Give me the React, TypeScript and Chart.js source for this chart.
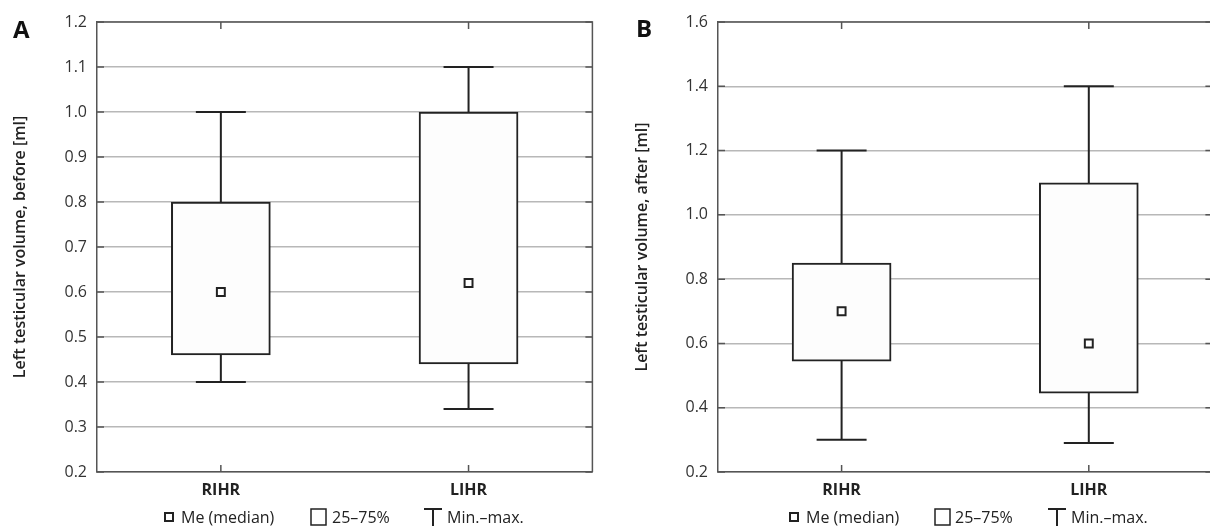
import React, { useEffect, useRef } from 'react';
import { Chart, registerables } from 'chart.js';

Chart.register(...registerables);

const categories = ['RIHR', 'LIHR'];

const beforeMin = [0.4, 0.34];
const beforeQ1 = [0.46, 0.44];
const beforeMedian = [0.6, 0.62];
const beforeQ3 = [0.8, 1.0];
const beforeMax = [1.0, 1.1];

const afterMin = [0.3, 0.29];
const afterQ1 = [0.545, 0.445];
const afterMedian = [0.7, 0.6];
const afterQ3 = [0.85, 1.1];
const afterMax = [1.2, 1.4];

const beforeTicks = ['0.2', '0.3', '0.4', '0.5', '0.6', '0.7', '0.8', '0.9', '1.0', '1.1', '1.2'];
const afterTicks = ['0.2', '0.4', '0.6', '0.8', '1.0', '1.2', '1.4', '1.6'];

const FONT = "'Open Sans', 'DejaVu Sans', sans-serif";

const whiskerPlugin = {
  id: 'whiskers',
  beforeDatasetsDraw(chart: any, _args: any, opts: any) {
    const { ctx, scales } = chart;
    const x = scales.x;
    const y = scales.y;
    const mins: number[] = opts.min || [];
    const maxs: number[] = opts.max || [];
    ctx.save();
    ctx.strokeStyle = '#222';
    ctx.lineWidth = 2;
    mins.forEach((mn, i) => {
      const cx = x.getPixelForValue(i);
      const y0 = y.getPixelForValue(mn);
      const y1 = y.getPixelForValue(maxs[i]);
      ctx.beginPath();
      ctx.moveTo(cx, y0);
      ctx.lineTo(cx, y1);
      ctx.moveTo(cx - 25, y0);
      ctx.lineTo(cx + 25, y0);
      ctx.moveTo(cx - 25, y1);
      ctx.lineTo(cx + 25, y1);
      ctx.stroke();
    });
    ctx.restore();
  },
};

const framePlugin = {
  id: 'frame',
  afterDraw(chart: any) {
    const { ctx, chartArea, scales } = chart;
    const { left, right, top, bottom } = chartArea;
    ctx.save();
    ctx.strokeStyle = '#555';
    ctx.lineWidth = 1.5;
    ctx.beginPath();
    ctx.moveTo(left, top);
    ctx.lineTo(right, top);
    ctx.lineTo(right, bottom);
    ctx.stroke();
    const len = 7;
    ctx.beginPath();
    scales.y.ticks.forEach((_t: any, i: number) => {
      const py = scales.y.getPixelForTick(i);
      ctx.moveTo(left, py);
      ctx.lineTo(left + len, py);
      ctx.moveTo(right, py);
      ctx.lineTo(right - len, py);
    });
    scales.x.ticks.forEach((_t: any, i: number) => {
      const px = scales.x.getPixelForTick(i);
      ctx.moveTo(px, bottom);
      ctx.lineTo(px, bottom - len);
      ctx.moveTo(px, top);
      ctx.lineTo(px, top + len);
    });
    ctx.stroke();
    ctx.restore();
  },
};

type PanelProps = {
  min: number[];
  q1: number[];
  med: number[];
  q3: number[];
  max: number[];
  yMin: number;
  yMax: number;
  step: number;
  tickLabels: string[];
  title: string;
  yWidth: number;
  titlePad: number;
  width: number;
};

function BoxPanel(p: PanelProps) {
  const ref = useRef<HTMLCanvasElement>(null);
  useEffect(() => {
    if (!ref.current) return;
    const chart = new Chart(ref.current, {
      type: 'bar',
      data: {
        labels: categories,
        datasets: [
          {
            type: 'line',
            label: 'Me (median)',
            data: p.med,
            showLine: false,
            pointStyle: 'rect',
            pointRadius: 5.6,
            pointHoverRadius: 5.6,
            pointBorderWidth: 2,
            pointBorderColor: '#222',
            pointBackgroundColor: '#ffffff',
            order: 0,
          } as any,
          {
            type: 'bar',
            label: '25–75%',
            data: categories.map((_, i) => [p.q1[i], p.q3[i]]),
            backgroundColor: '#fdfdfd',
            borderColor: '#222',
            borderWidth: 2,
            borderSkipped: false,
            barThickness: 99,
            order: 1,
          } as any,
        ],
      },
      options: {
        responsive: false,
        animation: false,
        events: [],
        layout: { padding: { top: 22, left: 0, right: 0, bottom: 0 } },
        plugins: {
          legend: { display: false },
          tooltip: { enabled: false },
          whiskers: { min: p.min, max: p.max },
        } as any,
        scales: {
          x: {
            offset: true,
            grid: { display: false, drawTicks: false },
            border: { display: true, color: '#555', width: 1.5 },
            ticks: {
              padding: 9,
              color: '#222',
              font: { family: FONT, size: 16, weight: 'bold' },
            },
            afterFit: (s: any) => {
              s.height = 55;
            },
          },
          y: {
            min: p.yMin,
            max: p.yMax,
            grid: { color: '#b8b8b8', lineWidth: 1.5, drawTicks: false },
            border: { display: true, color: '#555', width: 1.5 },
            ticks: {
              stepSize: p.step,
              padding: 10,
              color: '#333',
              font: { family: FONT, size: 16 },
              callback: (v: any, i: number) => p.tickLabels[i] ?? Number(v).toFixed(1),
            },
            title: {
              display: true,
              text: p.title,
              color: '#222',
              font: { family: FONT, size: 16, weight: '600' },
              padding: { top: p.titlePad, bottom: 0 },
            },
            afterFit: (s: any) => {
              s.width = p.yWidth;
            },
          },
        },
      },
      plugins: [whiskerPlugin, framePlugin],
    });
    return () => chart.destroy();
  }, []);
  return <canvas ref={ref} width={p.width} height={527} style={{ display: 'block' }} />;
}

const legendText: React.CSSProperties = {
  fontFamily: FONT,
  fontSize: 16,
  color: '#222',
  whiteSpace: 'nowrap',
};

function LegendItem({
  x,
  kind,
  text,
  gap,
}: {
  x: number;
  kind: 'median' | 'box' | 'range';
  text: string;
  gap: number;
}) {
  let icon: React.ReactNode;
  if (kind === 'median') {
    icon = (
      <svg width={10} height={18} style={{ display: 'block' }}>
        <rect x={1} y={5} width={8} height={8} fill="#fff" stroke="#222" strokeWidth={2} />
      </svg>
    );
  } else if (kind === 'box') {
    icon = (
      <svg width={17} height={18} style={{ display: 'block' }}>
        <rect x={1} y={1} width={15} height={16} fill="#fff" stroke="#222" strokeWidth={1.5} />
      </svg>
    );
  } else {
    icon = (
      <svg width={20} height={18} style={{ display: 'block' }}>
        <line x1={1} y1={1} x2={19} y2={1} stroke="#222" strokeWidth={2} />
        <line x1={10} y1={1} x2={10} y2={18} stroke="#222" strokeWidth={2} />
      </svg>
    );
  }
  return (
    <div
      style={{
        position: 'absolute',
        left: x,
        top: 508,
        height: 18,
        display: 'flex',
        alignItems: 'center',
        gap,
      }}
    >
      {icon}
      <span style={legendText}>{text}</span>
    </div>
  );
}

const letterStyle: React.CSSProperties = {
  position: 'absolute',
  fontFamily: FONT,
  fontSize: 24,
  fontWeight: 700,
  lineHeight: '24px',
  color: '#111',
};

export default function App() {
  return (
    <div
      style={{
        position: 'absolute',
        left: 0,
        top: 0,
        width: 1210,
        height: 527,
        overflow: 'hidden',
        background: '#fff',
      }}
    >
      <div style={{ position: 'absolute', left: 0, top: 0 }}>
        <BoxPanel
          min={beforeMin}
          q1={beforeQ1}
          med={beforeMedian}
          q3={beforeQ3}
          max={beforeMax}
          yMin={0.2}
          yMax={1.2}
          step={0.1}
          tickLabels={beforeTicks}
          title="Left testicular volume, before [ml]"
          yWidth={97}
          titlePad={11}
          width={600}
        />
      </div>
      <div style={{ position: 'absolute', left: 600, top: 0 }}>
        <BoxPanel
          min={afterMin}
          q1={afterQ1}
          med={afterMedian}
          q3={afterQ3}
          max={afterMax}
          yMin={0.2}
          yMax={1.6}
          step={0.2}
          tickLabels={afterTicks}
          title="Left testicular volume, after [ml]"
          yWidth={118}
          titlePad={33}
          width={620}
        />
      </div>
      <div style={{ ...letterStyle, left: 13, top: 17 }}>A</div>
      <div style={{ ...letterStyle, left: 636, top: 16 }}>B</div>

      <LegendItem x={164} kind="median" text="Me (median)" gap={7} />
      <LegendItem x={310} kind="box" text="25–75%" gap={5} />
      <LegendItem x={423} kind="range" text="Min.–max." gap={4} />

      <LegendItem x={789} kind="median" text="Me (median)" gap={7} />
      <LegendItem x={934} kind="box" text="25–75%" gap={4} />
      <LegendItem x={1047} kind="range" text="Min.–max." gap={4} />
    </div>
  );
}
